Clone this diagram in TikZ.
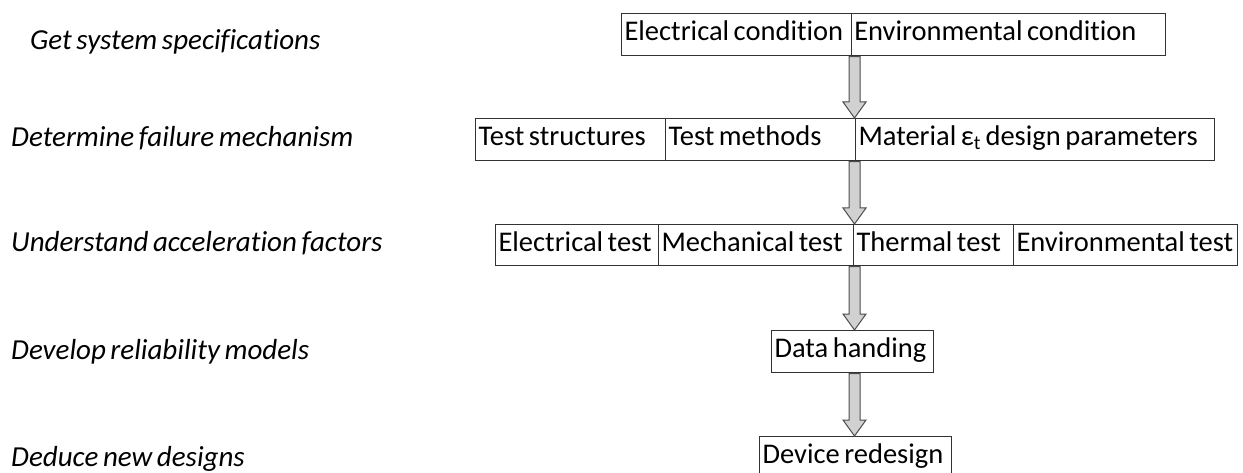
\documentclass[tikz,border=0pt]{standalone}
\usepackage{fontspec}
\setmainfont{Carlito}[Ligatures=NoCommon, WordSpace=0.7]
\usetikzlibrary{calc}
\newcommand\celltext[2]{\makebox[#1pt][l]{#2}}
\tikzset{
  cell/.style={draw=black!80, line width=1.1pt, text height=19pt, text depth=7pt,
    minimum height=41, inner xsep=3pt, inner ysep=0pt, anchor=north west,
    font=\fontsize{28.5}{31}\selectfont},
  lab/.style={anchor=base west, inner sep=0pt, font=\fontsize{29}{32}\selectfont\itshape},
  blockarr/.style={draw=black!70, fill=black!18, line width=1pt, line join=miter}
}
\newcommand\blockarrow[2]{%
  \draw[blockarr] let \p1=(#1.south), \p2=(#2.north) in
    (849pt,\y1-0.6pt) -- (860pt,\y1-0.6pt) -- (860pt,\y2+16pt) -- (866pt,\y2+16pt)
    -- (854.5pt,\y2) -- (843pt,\y2+16pt) -- (849pt,\y2+16pt) -- cycle;}
\begin{document}
\begin{tikzpicture}[x=1pt,y=-1pt]
\useasboundingbox (0,0) rectangle (1243,473);
% left labels
\node[lab] (l1) at (30,50) {Get system specifications};
\node[lab] (l2) at (11,147) {Determine failure mechanism};
\node[lab] (l3) at (11,252) {Understand acceleration factors};
\node[lab] (l4) at (11,359) {Develop reliability models};
\node[lab] (l5) at (11,466) {Deduce new designs};
% row 1
\node[cell, minimum height=42] (a1) at (621,13) {\celltext{223.7}{Electrical condition}};
\node[cell, minimum height=42] (a2) at (850.7,13) {\celltext{308.3}{Environmental condition}};
% row 2
\node[cell, minimum height=42] (b1) at (475,118) {\celltext{184}{Test structures}};
\node[cell, minimum height=42] (b2) at (665,118) {\celltext{184}{Test methods}};
\node[cell, minimum height=42] (b3) at (855,118) {\celltext{353}{Material ε\textsubscript{t} design parameters}};
% row 3
\node[cell] (c1) at (495,224) {\celltext{157}{Electrical test}};
\node[cell] (c2) at (658,224) {\celltext{189}{Mechanical test}};
\node[cell] (c3) at (853,224) {\celltext{154}{Thermal test}};
\node[cell] (c4) at (1013,224) {\celltext{218}{Environmental test}};
% row 4
\node[cell, minimum height=42] (d1) at (771,330) {\celltext{156}{Data handing}};
% row 5
\node[cell, minimum height=42] (e1) at (759,436) {\celltext{186}{Device redesign}};
% arrows
\blockarrow{a2}{b3}
\blockarrow{b3}{c3}
\blockarrow{c3}{d1}
\blockarrow{d1}{e1}
\end{tikzpicture}
\end{document}
